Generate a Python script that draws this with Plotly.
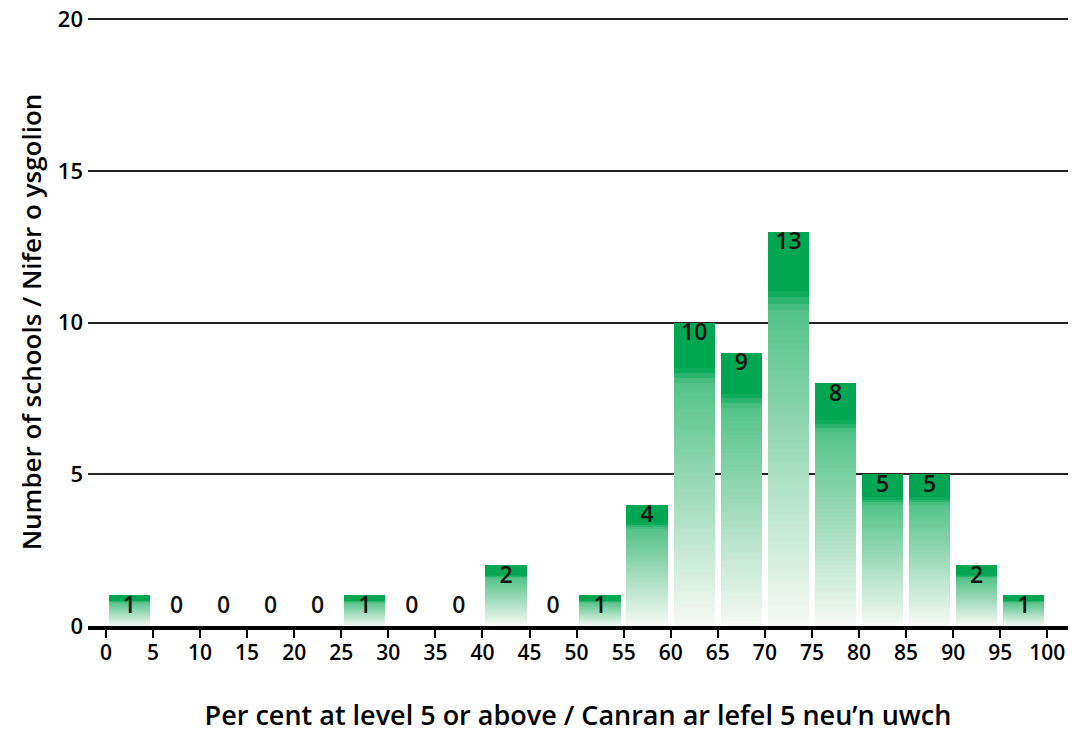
import plotly.graph_objects as go

# bins of 5 percentage points, labelled by their centre
bin_starts = [0, 5, 10, 15, 20, 25, 30, 35, 40, 45, 50, 55, 60, 65, 70, 75, 80, 85, 90, 95]
counts = [1, 0, 0, 0, 0, 1, 0, 0, 2, 0, 1, 4, 10, 9, 13, 8, 5, 5, 2, 1]
x_ticks = list(range(0, 101, 5))
y_ticks = [0, 5, 10, 15, 20]

x_title = "Per cent at level 5 or above / Canran ar lefel 5 neu\u2019n uwch"
y_title = "Number of schools / Nifer o ysgolion"

GREEN = (0, 166, 81)
PALE = (248, 250, 246)
FONT = "Open Sans"


def shade(f):
    # solid green in the top band, a quick step to paler green, then fading to white
    if f >= 0.85:
        t = 1.0
    elif f >= 0.80:
        t = 0.66 + 0.34 * (f - 0.80) / 0.05
    else:
        t = 0.66 * f / 0.80
    c = [round(PALE[i] * (1 - t) + GREEN[i] * t) for i in range(3)]
    return "rgb(%d,%d,%d)" % tuple(c)


centres = [s + 2.5 for s in bin_starts]

fig = go.Figure()

# each bar is drawn as a stack of thin slices to give the vertical gradient
n_slices = 60
for k in range(n_slices):
    fig.add_trace(go.Bar(
        x=centres,
        y=[v / n_slices for v in counts],
        base=[v * k / n_slices for v in counts],
        width=4.4,
        marker=dict(color=shade((k + 0.5) / n_slices), line=dict(width=0)),
        showlegend=False,
        hoverinfo="skip",
    ))

# count labels (zero bins get their label just above the axis)
label_y = [max(v, 1) for v in counts]
fig.add_trace(go.Scatter(
    x=centres,
    y=label_y,
    mode="text",
    text=[str(v) for v in counts],
    textposition="bottom center",
    textfont=dict(family=FONT, size=23, color="#111111", weight=600),
    showlegend=False,
    hoverinfo="skip",
))

fig.update_layout(
    width=1085,
    height=738,
    barmode="overlay",
    bargap=0,
    plot_bgcolor="white",
    paper_bgcolor="white",
    margin=dict(l=88, r=17, t=18, b=112),
    font=dict(family=FONT, size=20, color="black"),
)

fig.update_xaxes(
    range=[-1.9, 102.2],
    tickvals=x_ticks,
    ticktext=[str(t) for t in x_ticks],
    tickfont=dict(family=FONT, size=21, color="black", weight=600),
    ticks="outside",
    ticklen=8,
    tickwidth=2,
    tickcolor="black",
    ticklabelstandoff=-3,
    showline=True,
    linecolor="black",
    linewidth=4,
    showgrid=False,
    zeroline=False,
    automargin=False,
    title=dict(text=x_title, font=dict(family=FONT, size=27, color="black", weight=600), standoff=42),
)

fig.update_yaxes(
    range=[0, 20.04],
    tickvals=y_ticks,
    tickfont=dict(family=FONT, size=22, color="black", weight=600),
    ticklabeloverflow="allow",
    ticklabelstandoff=4,
    showgrid=True,
    gridcolor="#222222",
    gridwidth=1.5,
    zeroline=False,
    showline=False,
    ticks="",
    automargin=False,
    title=dict(text=y_title, font=dict(family=FONT, size=26, color="black", weight=600), standoff=8),
)

# drop the page's default body margin so the figure sits flush in the window
fig.write_html(
    "out.html",
    config={"displayModeBar": False},
    post_script="document.body.style.margin='0';",
)
